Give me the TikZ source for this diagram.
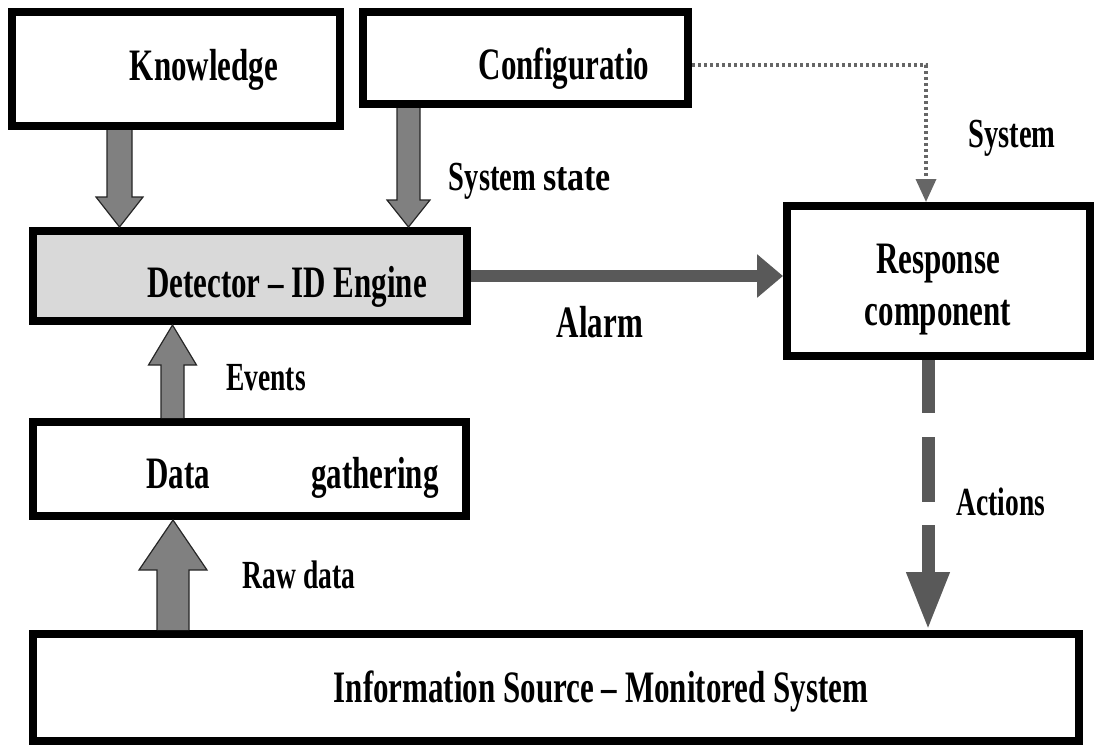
\documentclass[tikz,border=0pt]{standalone}
\usepackage{fontspec}
\setmainfont{Liberation Serif}
\usetikzlibrary{arrows.meta,calc}
\definecolor{detfill}{HTML}{D9D9D9}
\definecolor{arrfill}{HTML}{808080}
\definecolor{darkarr}{HTML}{595959}
\definecolor{dotcol}{HTML}{666666}
\newcommand\tall[1]{\scalebox{1}[1.45]{#1}}
\newcommand\varrow[5]{\draw[blockarr] let \p1=#1, \p2=#2 in
  (\x1-#3,\y1) -- (\x1-#3,\y2+#5) -- (\x1-#4,\y2+#5) -- (\x1,\y2) --
  (\x1+#4,\y2+#5) -- (\x1+#3,\y2+#5) -- (\x1+#3,\y1);}
\begin{document}
\begin{tikzpicture}[x=1pt,y=-1pt,
  box/.style={draw=black, line width=8pt, inner sep=0pt, fill=white},
  lbl/.style={anchor=base, inner sep=0pt, font=\bfseries\fontsize{31}{36}\selectfont},
  slbl/.style={anchor=base, inner sep=0pt, font=\bfseries\fontsize{27.5}{33}\selectfont},
  blockarr/.style={fill=arrfill, draw=black!85, line width=1.2pt, line join=miter},
  ]
\useasboundingbox (0,0) rectangle (1096,747);
% boxes
\node[box, minimum width=328pt, minimum height=114pt] (know) at (176,69) {};
\node[box, minimum width=325pt, minimum height=92pt] (conf) at (525.5,58) {};
\node[box, fill=detfill, minimum width=434pt, minimum height=90pt] (det) at (250,276) {};
\node[box, minimum width=433pt, minimum height=94pt] (data) at (249.5,469) {};
\node[box, minimum width=1046pt, minimum height=107pt] (info) at (556,687.5) {};
\node[box, minimum width=303pt, minimum height=150pt] (resp) at (938.5,281) {};
% reference x positions for connectors
\coordinate (kx) at (119.5,0);
\coordinate (cx) at (408.5,0);
\coordinate (ex) at (172.5,0);
\coordinate (rx) at (173,0);
\coordinate (ax) at (928,0);
\coordinate (dx) at (926,0);
% block arrows
\varrow{(kx |- know.south)}{(kx |- det.north)}{12.5pt}{23.5pt}{30pt}
\varrow{(cx |- conf.south)}{(cx |- det.north)}{11.5pt}{21.5pt}{27pt}
\varrow{(ex |- data.north)}{(ex |- det.south)}{11.5pt}{24pt}{-40pt}
\varrow{(rx |- info.north)}{(rx |- data.south)}{16pt}{34pt}{-50pt}
% alarm
\draw[darkarr, line width=12pt, -{Triangle[length=26pt,width=42pt]}]
  (det.east) -- (det.east -| resp.west);
% actions
\draw[darkarr, line width=13pt, dash pattern=on 53pt off 24pt on 65pt off 23pt on 400pt off 1pt,
  -{Triangle[length=58pt,width=40pt]}] (ax |- resp.south) -- (ax |- info.north);
% system (dotted)
\draw[dotcol, line width=3.5pt, dash pattern=on 3pt off 3pt, -{Triangle[length=23pt,width=20pt]}]
  ([yshift=-7pt]conf.east) -| (dx |- resp.north);
% texts
\node[lbl] (tknow) at (204,80) {\tall{Knowledge}};
\node[anchor=base, inner sep=0pt, font=\bfseries\fontsize{28.5}{34}\selectfont] (tss) at (530,190)
  {\tall{System} \scalebox{1}[1.2]{\fontsize{34}{40}\selectfont state}};
\node[lbl] (tconf) at (564,79) {\tall{Configuratio}};
\node[lbl] (tdet) at (287,297) {\tall{Detector -- ID Engine}};
\node[lbl] (talarm) at (600,337) {\tall{Alarm}};
\node[anchor=base, inner sep=0pt, font=\bfseries\fontsize{28.5}{34}\selectfont] (tsys) at (1012,147) {\tall{System}};
\node[lbl] (tresp) at (938,273) {\tall{Response}};
\node[lbl] (tcomp) at (938,325) {\tall{component}};
\node[slbl] (tev) at (266,390) {\tall{Events}};
\node[lbl] (tdata) at (178,488) {\tall{Data}};
\node[lbl] (tgath) at (375,488) {\tall{gathering}};
\node[slbl] (traw) at (299,588) {\tall{Raw data}};
\node[slbl] (tact) at (1001,515) {\tall{Actions}};
\node[lbl] (tinfo) at (601,702) {\tall{Information Source -- Monitored System}};
\end{tikzpicture}
\end{document}
